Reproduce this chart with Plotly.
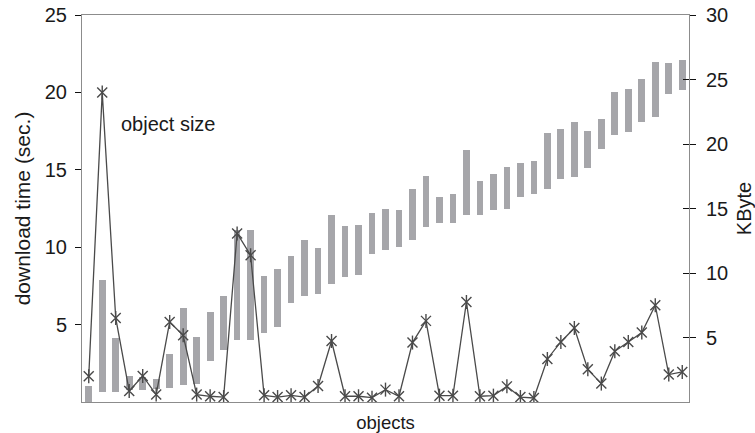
import numpy as np
import plotly.graph_objects as go

objects = list(range(1, 46))

size_low = [0.0, 0.78, 0.78, 0.91, 0.96, 1.04, 1.12, 1.35, 1.37, 3.18,
            4.01, 4.79, 4.79, 5.38, 5.82, 7.70, 8.22, 8.38, 9.15, 9.70,
            9.83, 11.51, 11.82, 12.00, 12.52, 13.55, 13.84, 13.89, 14.48, 14.48,
            14.87, 14.95, 15.86, 16.09, 16.55, 17.25, 17.41, 18.11, 19.58, 20.69,
            20.95, 21.72, 22.11, 23.87, 24.18]
size_high = [1.22, 9.44, 4.97, 1.99, 1.94, 1.81, 3.70, 7.32, 5.04, 6.94,
             8.20, 13.32, 13.32, 9.75, 10.32, 11.30, 12.54, 11.90, 14.48, 13.63,
             13.76, 14.66, 15.00, 14.87, 16.55, 17.51, 15.90, 16.11, 19.53, 17.12,
             17.64, 18.18, 18.49, 18.67, 20.82, 21.16, 21.67, 21.00, 21.93, 24.00,
             24.26, 25.01, 26.33, 26.25, 26.51]
download_time = [1.66, 20.0, 5.43, 0.71, 1.68, 0.48, 5.17, 4.31, 0.48, 0.37,
                 0.32, 10.89, 9.48, 0.43, 0.32, 0.43, 0.32, 1.03, 3.94, 0.37,
                 0.37, 0.28, 0.80, 0.37, 3.84, 5.24, 0.41, 0.41, 6.46, 0.37,
                 0.41, 1.01, 0.32, 0.26, 2.78, 3.88, 4.78, 2.11, 1.19, 3.28,
                 3.88, 4.49, 6.25, 1.77, 1.94]

left_ticks = [5, 10, 15, 20, 25]
right_ticks = [5, 10, 15, 20, 25, 30]

FONT = "Liberation Sans, Arial, Helvetica, sans-serif"
TXT = "#1a1a1a"
AXC = "#8c8c8c"
BARC = "#a6a6aa"
LINEC = "#4a4a4a"

low = np.array(size_low)
high = np.array(size_high)

fig = go.Figure()
fig.add_trace(go.Bar(x=objects, y=high - low, base=low, width=0.5,
                     marker=dict(color=BARC, line=dict(width=0)),
                     yaxis="y", showlegend=False))
fig.add_trace(go.Scatter(x=objects, y=download_time, mode="lines+markers",
                         line=dict(color=LINEC, width=1.3),
                         marker=dict(symbol="x-thin-open", size=10, color=LINEC,
                                     line=dict(color=LINEC, width=1.4)),
                         yaxis="y2", showlegend=False))
fig.add_trace(go.Scatter(x=objects, y=download_time, mode="markers",
                         marker=dict(symbol="line-ns-open", size=10, color=LINEC,
                                     line=dict(color=LINEC, width=1.4)),
                         yaxis="y2", showlegend=False))
fig.add_trace(go.Scatter(x=[1], y=[0], yaxis="y3", mode="markers",
                         marker=dict(opacity=0), showlegend=False, hoverinfo="skip"))

fig.update_layout(
    template="none",
    width=755, height=433,
    margin=dict(l=82, r=66, t=15, b=31, autoexpand=False),
    paper_bgcolor="white", plot_bgcolor="white",
    font=dict(family=FONT, color=TXT, size=20),
    bargap=0,
    xaxis=dict(range=[0.5, 45.5], showticklabels=False, ticks="",
               showgrid=False, zeroline=False, showline=True, mirror=True,
               linecolor=AXC, linewidth=1, automargin=False,
               title=dict(text="objects", font=dict(size=18.5), standoff=18)),
    yaxis=dict(side="right", range=[0, 30], tickvals=right_ticks,
               ticks="outside", ticklen=6, tickcolor="#111", tickwidth=1.2,
               showgrid=False, zeroline=False, showline=True,
               linecolor=AXC, linewidth=1, ticklabelstandoff=6, automargin=False,
               title=dict(text="KByte", font=dict(size=20), standoff=16)),
    yaxis2=dict(side="left", overlaying="y", range=[0, 25], tickvals=left_ticks,
                ticks="outside", ticklen=6, tickcolor="#111", tickwidth=1.2,
                showgrid=False, zeroline=False, showline=True,
                linecolor=AXC, linewidth=1, ticklabelstandoff=4, automargin=False,
                title=dict(text="download time (sec.)", font=dict(size=21), standoff=8)),
    yaxis3=dict(side="right", overlaying="y", range=[0, 30], tickvals=right_ticks,
                ticks="inside", ticklen=6, tickcolor="#111", tickwidth=1.2,
                showticklabels=False, showgrid=False, zeroline=False,
                showline=False, automargin=False),
    annotations=[dict(text="object size", xref="paper", yref="paper",
                      x=(119 - 82) / 607, y=(402 - 124) / 387,
                      xanchor="left", yanchor="middle", showarrow=False,
                      font=dict(size=20, color=TXT))],
)

fig.write_html("out.html")
